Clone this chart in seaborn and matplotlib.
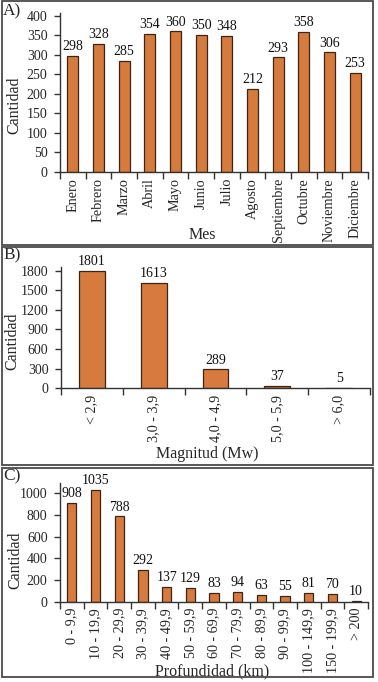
import matplotlib
matplotlib.use("Agg")
import matplotlib.pyplot as plt
import seaborn as sns
import pandas as pd
from matplotlib.patches import Rectangle
from matplotlib.ticker import FixedLocator

sns.set_theme(style="white")
plt.rcParams['font.family'] = ['Liberation Serif', 'DejaVu Serif']

meses = ["Enero", "Febrero", "Marzo", "Abril", "Mayo", "Junio", "Julio",
         "Agosto", "Septiembre", "Octubre", "Noviembre", "Diciembre"]
cant_mes = [298, 328, 285, 354, 360, 350, 348, 212, 293, 358, 306, 253]

magnitudes = ["< 2,9", "3,0 - 3,9", "4,0 - 4,9", "5,0 - 5,9", "> 6,0"]
cant_mag = [1801, 1613, 289, 37, 5]

profundidades = ["0 - 9,9", "10 - 19,9", "20 - 29,9", "30 - 39,9", "40 - 49,9",
                 "50 - 59,9", "60 - 69,9", "70 - 79,9", "80 - 89,9", "90 - 99,9",
                 "100 - 149,9", "150 - 199,9", "> 200"]
cant_prof = [908, 1035, 788, 292, 137, 129, 83, 94, 63, 55, 81, 70, 10]

yticks_a = [0, 50, 100, 150, 200, 250, 300, 350, 400]
yticks_b = [0, 300, 600, 900, 1200, 1500, 1800]
yticks_c = [0, 200, 400, 600, 800, 1000]

W, H = 378, 682
fig = plt.figure(figsize=(W / 100, H / 100), dpi=100)

BAR = "#D77A3D"
EDGE = "#3a2618"
AXC = "#333333"


def add_ax(left, right, top, bottom):
    return fig.add_axes([left / W, 1 - bottom / H, (right - left) / W, (bottom - top) / H])


def style(ax, cats, vals, yticks, ymax, xlab, xlab_pos, ylab_pos, width):
    df = pd.DataFrame({"cat": cats, "val": vals})
    sns.barplot(data=df, x="cat", y="val", ax=ax, color=BAR, edgecolor=EDGE,
                linewidth=0.9, width=width, saturation=1)
    for c in ax.containers:
        ax.bar_label(c, labels=[str(v) for v in vals], padding=2, fontsize=10, color="#111111")
    n = len(cats)
    ax.set_xlim(-0.5, n - 0.5)
    ax.set_ylim(0, ymax)
    ax.set_yticks(yticks)
    ax.set_yticklabels([str(t) for t in yticks], fontsize=10)
    ax.set_xticks(range(n))
    ax.set_xticklabels(cats, rotation=90, fontsize=10.2)
    ax.xaxis.set_minor_locator(FixedLocator([i - 0.5 for i in range(n + 1)]))
    ax.tick_params(axis="x", which="major", length=0, pad=4.5)
    ax.tick_params(axis="x", which="minor", length=5, width=1, color=AXC, direction="out", bottom=True)
    ax.tick_params(axis="y", length=4, width=1, color=AXC, direction="out", left=True, pad=5)
    for s in ["top", "right"]:
        ax.spines[s].set_visible(False)
    for s in ["left", "bottom"]:
        ax.spines[s].set_color(AXC)
        ax.spines[s].set_linewidth(1)
    ax.set_xlabel(xlab, fontsize=11.5)
    ax.xaxis.label.set_verticalalignment("center")
    ax.xaxis.set_label_coords(*xlab_pos)
    ax.set_ylabel("Cantidad", fontsize=11.5)
    ax.yaxis.label.set_verticalalignment("center")
    ax.yaxis.set_label_coords(*ylab_pos)
    ax.set_facecolor("none")


axA = add_ax(60, 368, 13, 171.7)
style(axA, meses, cant_mes, yticks_a, 407, "Mes", (0.461, -0.399), (-0.149, 0.42), 0.43)

axB = add_ax(61, 370, 266.7, 388.3)
style(axB, magnitudes, cant_mag, yticks_b, 1861, "Magnitud (Mw)", (0.474, -0.54), (-0.157, 0.383), 0.42)

axC = add_ax(60, 368, 483, 601.7)
style(axC, profundidades, cant_prof, yticks_c, 1095, "Profundidad (km)", (0.495, -0.59), (-0.146, 0.351), 0.39)

# panel frames
for top, bot in [(1, 245), (247.5, 465), (467.5, 677)]:
    fig.patches.append(Rectangle((1.5 / W, 1 - bot / H), (373 - 1.5) / W, (bot - top) / H,
                                 transform=fig.transFigure, fill=False,
                                 edgecolor="#4a4a4a", linewidth=1.3))

for lab, y in [("A)", 11), ("B)", 255), ("C)", 476)]:
    fig.text(3 / W, 1 - y / H, lab, fontsize=12.5, va="center", ha="left")

fig.savefig("out.png", dpi=100)
